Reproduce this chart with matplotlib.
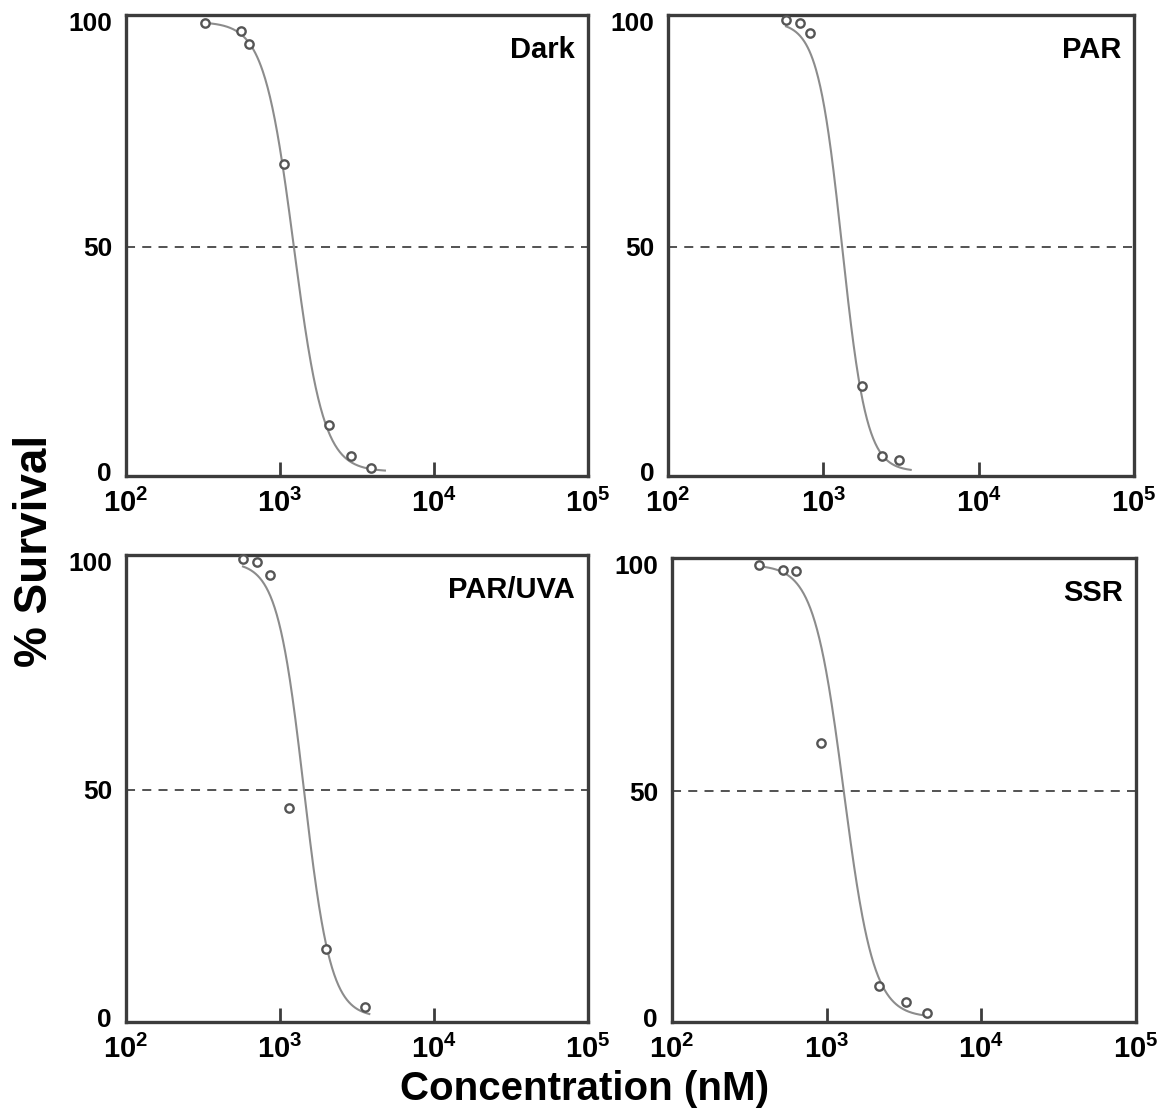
import numpy as np
import matplotlib.pyplot as plt

plt.rcParams['font.family'] = ['Liberation Sans', 'DejaVu Sans']
plt.rcParams['mathtext.fontset'] = 'custom'
plt.rcParams['mathtext.rm'] = 'Liberation Sans'
plt.rcParams['mathtext.bf'] = 'Liberation Sans:bold'

# measured survival (%) against concentration (nM) for each light condition
panels = ['Dark', 'PAR', 'PAR/UVA', 'SSR']

dark_conc = [326, 558, 630, 1062, 2080, 2890, 3900]
dark_surv = [99.8, 98.0, 95.0, 68.4, 10.3, 3.5, 0.7]

par_conc = [575, 708, 821, 1775, 2390, 3070]
par_surv = [100.5, 99.8, 97.5, 19.0, 3.5, 2.6]

paruva_conc = [575, 710, 861, 1143, 1990, 3560]
paruva_surv = [100.5, 100.0, 97.0, 46.0, 15.0, 2.2]

ssr_conc = [365, 522, 634, 918, 2180, 3260, 4450]
ssr_surv = [100.0, 98.9, 98.7, 60.6, 7.0, 3.5, 0.9]

# fitted dose-response (Hill) parameters and the range each fit is drawn over
ic50 = [1230, 1320, 1430, 1290]
hill = [4.5, 5.5, 5.0, 4.5]
fit_start = [326, 575, 575, 365]
fit_end = [4800, 3650, 3800, 4400]

conc = [dark_conc, par_conc, paruva_conc, ssr_conc]
surv = [dark_surv, par_surv, paruva_surv, ssr_surv]

# axes boxes in figure fractions: left, bottom, width, height
boxes = [
    [0.1088, 0.5723, 0.3990, 0.4142],
    [0.5769, 0.5723, 0.4024, 0.4142],
    [0.1088, 0.0818, 0.3990, 0.4196],
    [0.5803, 0.0818, 0.4007, 0.4169],
]

fig = plt.figure(figsize=(11.58, 11.13), dpi=100)

for i, name in enumerate(panels):
    ax = fig.add_axes(boxes[i])
    ax.set_xscale('log')
    ax.set_xlim(1e2, 1e5)
    ax.set_ylim(-1, 101.5)

    xs = np.logspace(np.log10(fit_start[i]), np.log10(fit_end[i]), 300)
    ys = 100.0 / (1.0 + (xs / ic50[i]) ** hill[i])
    ax.plot(xs, ys, color='#8c8c8c', lw=1.5, zorder=2)

    ax.plot(conc[i], surv[i], 'o', ms=6, mfc='white', mec='#555555',
            mew=1.7, zorder=3, clip_on=False)

    ax.axhline(50, color='#444444', lw=1.3, dashes=(5, 4), zorder=1)

    ax.text(0.972, 0.955, name, transform=ax.transAxes, ha='right', va='top',
            fontsize=21, fontweight='bold')

    for side in ['left', 'bottom', 'top', 'right']:
        ax.spines[side].set_color('#3c3c3c')
        ax.spines[side].set_linewidth(2.4)

    ax.set_xticks([1e2, 1e3, 1e4, 1e5])
    ax.set_xticklabels([r'$\mathbf{10^{2}}$', r'$\mathbf{10^{3}}$',
                        r'$\mathbf{10^{4}}$', r'$\mathbf{10^{5}}$'])
    ax.minorticks_off()
    ax.tick_params(axis='x', direction='in', length=10, width=2,
                   color='#3c3c3c', labelsize=21, pad=9)

    ax.set_yticks([0, 50, 100])
    ax.set_yticklabels(['0', '50', '100'], fontweight='bold')
    ax.tick_params(axis='y', length=0, labelsize=19, pad=10)

fig.text(0.03, 0.505, '% Survival', rotation=90, ha='center', va='center',
         fontsize=33, fontweight='bold')
fig.text(0.505, 0.022, 'Concentration (nM)', ha='center', va='center',
         fontsize=29, fontweight='bold')

plt.savefig('out.png', dpi=100)
